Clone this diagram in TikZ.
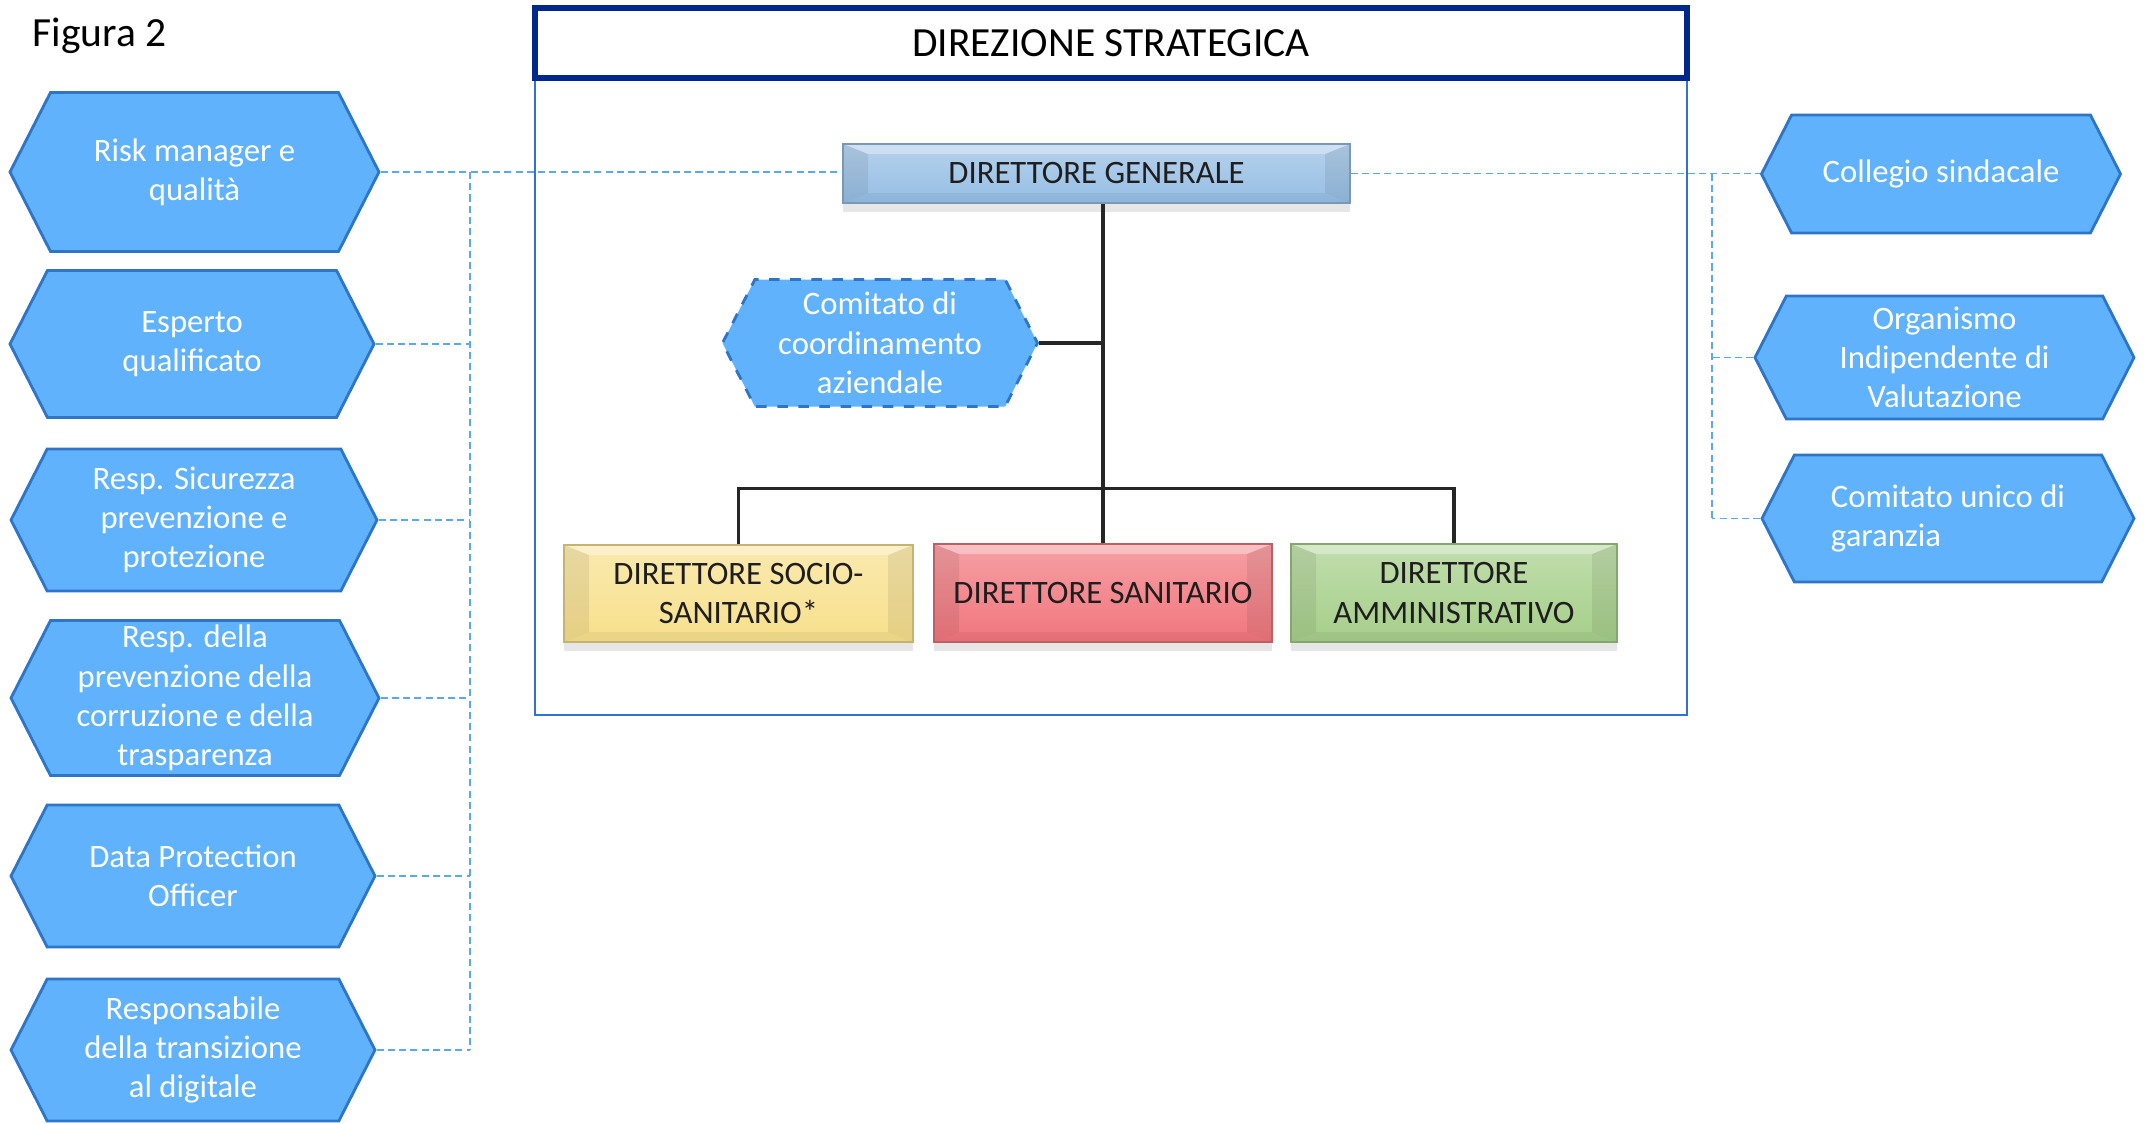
\documentclass[tikz,border=0pt]{standalone}
\usepackage{fontspec}
\setmainfont{Carlito}
\usetikzlibrary{shapes.symbols,shadows}

\definecolor{hexfill}{RGB}{96,178,252}
\definecolor{hexline}{RGB}{46,117,198}
\definecolor{navy}{RGB}{0,40,140}
\definecolor{framecol}{RGB}{47,117,207}
\definecolor{linkcol}{RGB}{91,168,240}
\definecolor{dgblue}{RGB}{150,190,228}
\definecolor{socioyel}{RGB}{247,224,140}
\definecolor{sanred}{RGB}{241,118,125}
\definecolor{ammgreen}{RGB}{166,207,138}
\definecolor{txtcol}{RGB}{30,30,30}

\begin{document}
\begin{tikzpicture}[
    every node/.style={inner sep=2pt, font=\fontsize{9.3}{11.2}\selectfont},
    hexa/.style={signal, signal to=east and west, signal pointer angle=126,
        fill=hexfill, draw=hexline, line width=0.8pt, text=white, align=center, inner ysep=0pt},
    dirbox/.style={rectangle, top color=#1!70!white, bottom color=#1, draw=#1!80!black,
        line width=0.3pt, text=txtcol, align=center,
        drop shadow={shadow xshift=0pt, shadow yshift=-2.5pt, opacity=.2},
        path picture={
          \fill[white,opacity=.35] (path picture bounding box.north west) -- (path picture bounding box.north east)
            -- ([shift={(-.25,-.1)}]path picture bounding box.north east) -- ([shift={(.25,-.1)}]path picture bounding box.north west) -- cycle;
          \fill[black,opacity=.07] (path picture bounding box.north west) -- ([shift={(.25,-.1)}]path picture bounding box.north west)
            -- ([shift={(.25,.1)}]path picture bounding box.south west) -- (path picture bounding box.south west) -- cycle;
          \fill[black,opacity=.07] (path picture bounding box.north east) -- ([shift={(-.25,-.1)}]path picture bounding box.north east)
            -- ([shift={(-.25,.1)}]path picture bounding box.south east) -- (path picture bounding box.south east) -- cycle;
          \fill[black,opacity=.05] (path picture bounding box.south west) -- (path picture bounding box.south east)
            -- ([shift={(-.25,.1)}]path picture bounding box.south east) -- ([shift={(.25,.1)}]path picture bounding box.south west) -- cycle;
        }},
    link/.style={linkcol, line width=0.5pt, dash pattern=on 2pt off 1.2pt},
    tree/.style={line width=1.1pt, black!85}]

    \useasboundingbox (0,0) rectangle (21.47,-11.23);

    \draw(0.25,-0.36) node [anchor=west, font=\fontsize{11.8}{14}\selectfont](fig){Figura 2};

    % direzione strategica
    \draw(11.11,-3.615) node [draw=framecol, line width=0.8pt, minimum width=11.52cm, minimum height=7.07cm](area){};
    \draw(11.11,-0.43) node [draw=navy, fill=white, line width=1.6pt, minimum width=11.52cm, minimum height=0.70cm,
        font=\fontsize{11.8}{14}\selectfont](title){DIREZIONE STRATEGICA};

    \draw(10.965,-1.735) node [dirbox=dgblue, minimum width=5.07cm, minimum height=0.59cm](dg){DIRETTORE GENERALE};
    \draw(8.80,-3.43) node [hexa, dashed, minimum width=3.15cm, minimum height=1.27cm](cc){Comitato di\\coordinamento\\aziendale};

    \draw(7.385,-5.935) node [dirbox=socioyel, minimum width=3.49cm, minimum height=0.97cm](socio){DIRETTORE SOCIO-\\SANITARIO*};
    \draw(11.03,-5.93) node [dirbox=sanred, minimum width=3.38cm, minimum height=0.98cm](san){DIRETTORE SANITARIO};
    \draw(14.54,-5.93) node [dirbox=ammgreen, minimum width=3.26cm, minimum height=0.98cm](amm){DIRETTORE\\AMMINISTRATIVO};

    \draw[tree] (san.north |- dg.south) -- (san.north);
    \draw[tree] (cc.east) -- (cc.east -| san.north);
    \draw[tree] (socio.north) -- ++(0,0.56) -| (amm.north);

    % staff a sinistra
    \draw(1.945,-1.72) node [hexa, minimum width=3.69cm, minimum height=1.59cm](rm){Risk manager e\\qualità};
    \draw(1.92,-3.44) node [hexa, minimum width=3.64cm, minimum height=1.47cm](eq){Esperto\\qualificato};
    \draw(1.94,-5.20) node [hexa, minimum width=3.66cm, minimum height=1.42cm](rs){Resp. Sicurezza\\prevenzione e\\protezione};
    \draw(1.95,-6.98) node [hexa, minimum width=3.68cm, minimum height=1.55cm](rp){Resp. della\\prevenzione della\\corruzione e della\\trasparenza};
    \draw(1.93,-8.76) node [hexa, minimum width=3.64cm, minimum height=1.42cm](dpo){Data Protection\\Officer};
    \draw(1.93,-10.50) node [hexa, minimum width=3.64cm, minimum height=1.42cm](rtd){Responsabile\\della transizione\\al digitale};

    % staff a destra
    \draw(19.41,-1.74) node [hexa, minimum width=3.59cm, minimum height=1.18cm](cs){Collegio sindacale};
    \draw(19.445,-3.575) node [hexa, minimum width=3.79cm, minimum height=1.23cm](oiv){Organismo\\Indipendente di\\Valutazione};
    \draw(19.48,-5.185) node [hexa, align=left, minimum width=3.72cm, minimum height=1.27cm](cug){Comitato unico di\\garanzia};

    % collegamenti tratteggiati
    \coordinate (ltop) at (4.70,-1.72);
    \coordinate (rtop) at (17.12,-1.735);
    \draw[link] (rm.east) -- (rm.east -| dg.west);
    \draw[link] (ltop) -- (ltop |- rtd.east);
    \foreach \n in {eq,rs,rp,dpo,rtd}
        \draw[link] (\n.east) -- (\n.east -| ltop);
    \draw[link] (dg.east) -- (dg.east -| cs.west);
    \draw[link] (rtop) -- (rtop |- cug.west);
    \foreach \n in {oiv,cug}
        \draw[link] (\n.west) -- (\n.west -| rtop);

\end{tikzpicture}
\end{document}
